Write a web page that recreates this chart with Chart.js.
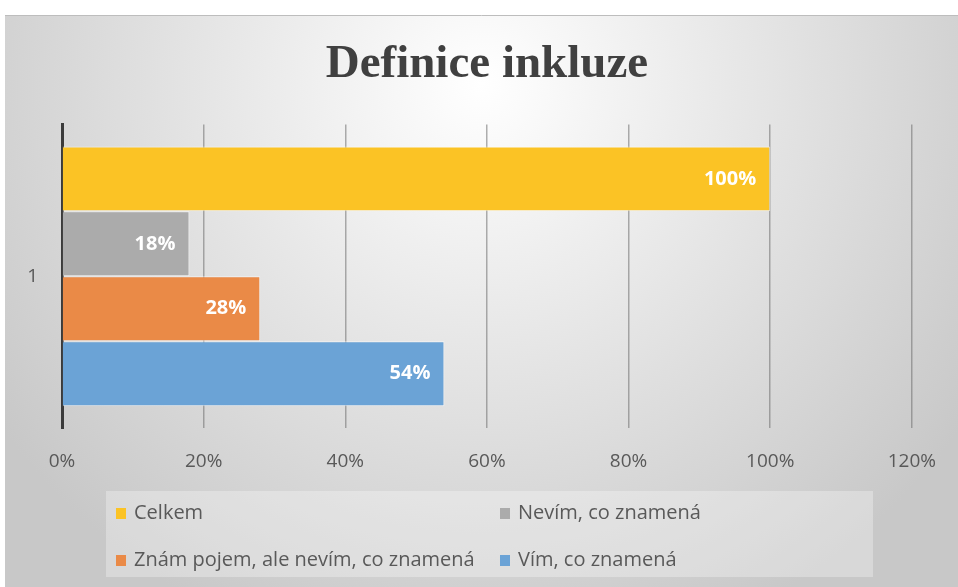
<!DOCTYPE html>
<html>
<head>
<meta charset="utf-8">
<script src="https://cdn.jsdelivr.net/npm/chart.js@4.4.1/dist/chart.umd.min.js"></script>
<style>
  html, body { margin: 0; padding: 0; background: #fff; }
  #wrap { position: absolute; left: 5px; top: 15px; width: 953px; height: 572px; }
</style>
</head>
<body>
<div id="wrap"><canvas id="inkluze"></canvas></div>
<script>
const categories = ["1"];
const seriesNames = ["Celkem", "Nevím, co znamená", "Znám pojem, ale nevím, co znamená", "Vím, co znamená"];
const seriesValues = [100, 18, 28, 54];
const seriesColors = ["#FBC325", "#ABABAB", "#EA8A47", "#6BA3D6"];
const tickMin = 0, tickMax = 120, tickStep = 20;

const FONT = "'Open Sans', 'Noto Sans', sans-serif";

// background: radial grey gradient like the office chart style
const bgPlugin = {
  id: "bg",
  beforeDraw(chart) {
    const ctx = chart.ctx, w = chart.width, h = chart.height;
    const g = ctx.createRadialGradient(w * 0.5, h * 0.12, 0, w * 0.5, h * 0.12, w * 0.62);
    g.addColorStop(0, "#ffffff");
    g.addColorStop(1, "#c8c8c8");
    ctx.save();
    ctx.fillStyle = g;
    ctx.fillRect(0, 0, w, h);
    ctx.strokeStyle = "#bdbdbd";
    ctx.lineWidth = 1;
    ctx.beginPath();
    ctx.moveTo(0, 0.5);
    ctx.lineTo(w, 0.5);
    ctx.stroke();
    ctx.restore();
  }
};

// value labels inside bar ends
const valueLabels = {
  id: "valueLabels",
  afterDatasetsDraw(chart) {
    const ctx = chart.ctx;
    ctx.save();
    ctx.font = "bold 20px " + FONT;
    ctx.fillStyle = "#ffffff";
    ctx.textAlign = "right";
    ctx.textBaseline = "middle";
    chart.data.datasets.forEach((ds, i) => {
      chart.getDatasetMeta(i).data.forEach((bar, j) => {
        ctx.fillText(ds.data[j] + "%", bar.x - 14, bar.y);
      });
    });
    ctx.restore();
  }
};

// two-column legend in a light box under the axis
const boxLegend = {
  id: "boxLegend",
  afterDraw(chart) {
    const ctx = chart.ctx;
    const left = 101, top = 476, right = 868, bottom = 562;
    const cols = [111, 495];
    const rows = [498, 545];
    ctx.save();
    ctx.fillStyle = "rgba(255,255,255,0.3)";
    ctx.fillRect(left, top, right - left, bottom - top);
    ctx.font = "20px " + FONT;
    ctx.textBaseline = "middle";
    ctx.textAlign = "left";
    chart.data.datasets.forEach((ds, i) => {
      const x = cols[i % 2], y = rows[Math.floor(i / 2)];
      ctx.fillStyle = ds.backgroundColor;
      ctx.fillRect(x, y - 5, 10, 11);
      ctx.fillStyle = "#595959";
      ctx.fillText(ds.label, x + 18, y);
    });
    ctx.restore();
  }
};

new Chart(document.getElementById("inkluze").getContext("2d"), {
  type: "bar",
  data: {
    labels: categories,
    datasets: seriesNames.map((name, i) => ({
      label: name,
      data: [seriesValues[i]],
      backgroundColor: seriesColors[i],
      borderColor: "rgba(255,255,255,0.6)",
      borderWidth: 1,
      barPercentage: 1,
      categoryPercentage: 0.855,
    })),
  },
  options: {
    indexAxis: "y",
    responsive: true,
    maintainAspectRatio: false,
    animation: false,
    layout: { padding: { left: 0, right: 44, top: 0, bottom: 92 } },
    plugins: {
      legend: { display: false },
      tooltip: { enabled: false },
      title: {
        display: true,
        fullSize: false,
        text: "Definice inkluze",
        color: "#404040",
        font: { family: "'Liberation Serif', 'Times New Roman', serif", size: 47, weight: "bold" },
        padding: { top: 22, bottom: 31 },
      },
    },
    scales: {
      x: {
        min: tickMin,
        max: tickMax,
        ticks: {
          stepSize: tickStep,
          padding: 22,
          color: "#595959",
          font: { family: FONT, size: 19 },
          callback: (v) => v + "%",
        },
        grid: { color: "rgba(110,110,110,0.55)", lineWidth: 1.5, drawTicks: false },
        border: { display: false },
      },
      y: {
        afterFit(scale) { scale.width = 57; },
        ticks: {
          padding: 24,
          color: "#595959",
          font: { family: FONT, size: 19 },
        },
        grid: { display: false, drawTicks: false },
        border: { display: true, color: "#3b3b3b", width: 3 },
      },
    },
  },
  plugins: [bgPlugin, valueLabels, boxLegend],
});
</script>
</body>
</html>
